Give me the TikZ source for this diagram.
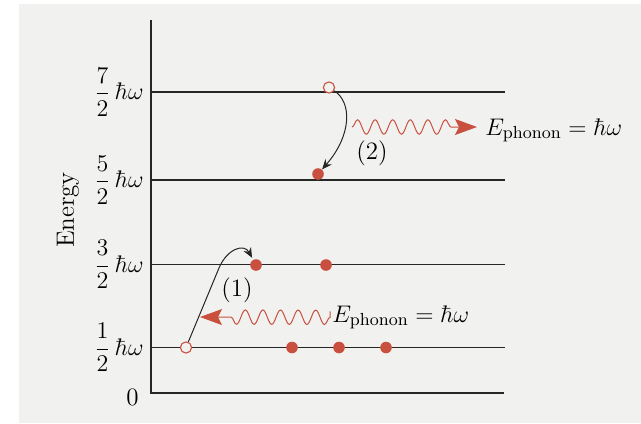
\documentclass[tikz,border=0pt]{standalone}
\usepackage{amsmath}
\usetikzlibrary{positioning,arrows.meta,decorations.pathmorphing}
\definecolor{phononRed}{HTML}{C9503E}
\definecolor{paperGrey}{HTML}{F1F1EF}
\tikzset{
  rung/.style={line width=0.65pt, black!85},
  lvl/.style={anchor=east, inner sep=1pt, font=\fontsize{12.5}{15}\selectfont},
  lbl/.style={inner sep=1pt, font=\fontsize{12.5}{15}\selectfont},
  atom/.style={circle, fill=phononRed, minimum size=5.8pt, inner sep=0pt},
  hole/.style={circle, draw=phononRed, line width=0.55pt, fill=paperGrey, minimum size=5.6pt, inner sep=0pt},
  jump/.style={-{Stealth[length=5pt,width=4.2pt]}, line width=0.5pt, black!85},
  wave/.style={phononRed, line width=0.5pt, -{Stealth[length=11pt,width=8pt,inset=2pt]},
               decorate, decoration={snake, segment length=8.8pt, amplitude=3.6pt, post length=15pt}},
}
\begin{document}
\begin{tikzpicture}[x=0.5pt, y=-0.5pt]
    \useasboundingbox (0,0) rectangle (641,423);
    \fill[paperGrey] (19,4) rectangle (641,423);

    \draw[rung] (151,20) |- (504,393);
    \foreach \y/\n in {92/7,180/5,264.5/3,347.5/1} {
      \draw[rung] (151,\y) -- (505,\y);
      \node[lvl] (l\n) at (146,\y) {$\dfrac{\n}{2}\,\hbar\omega$};
    }
    \node[lvl] (l0) at (141,397) {0};
    \node[lbl, rotate=90] (energy) at (68,210) {Energy};

    \node[hole] (h2) at (329,87.5) {};
    \node[atom] (d5) at (318,174) {};
    \node[atom] (a1) at (256,265) {};
    \node[atom] (a2) at (326,265) {};
    \node[hole] (h1) at (186,347.5) {};
    \node[atom] (g1) at (292,347.5) {};
    \node[atom] (g2) at (339,347.5) {};
    \node[atom] (g3) at (386,347.5) {};

    \node[lbl] (n2) at (372,153) {(2)};
    \node[lbl] (n1) at (237,290) {(1)};
    \node[lbl, anchor=base west] (ph2) at (483,135) {$E_{\text{phonon}} = \hbar\omega$};
    \node[lbl, anchor=base west] (ph1) at (330,322) {$E_{\text{phonon}} = \hbar\omega$};

    \draw[jump] (h2) .. controls (352,102) and (352,135) .. (d5);
    \draw[jump, shorten >=1pt] (h1) -- (219,268) .. controls (227,249) and (244,243) .. (a1);

    \coordinate (w2) at (352,127);
    \coordinate (w1) at (200,317);
    \draw[wave, shorten >=3pt] (w2) -- (w2 -| ph2.west);
    \draw[wave, shorten <=3pt] (ph1.west) -- (w1);
\end{tikzpicture}
\end{document}
